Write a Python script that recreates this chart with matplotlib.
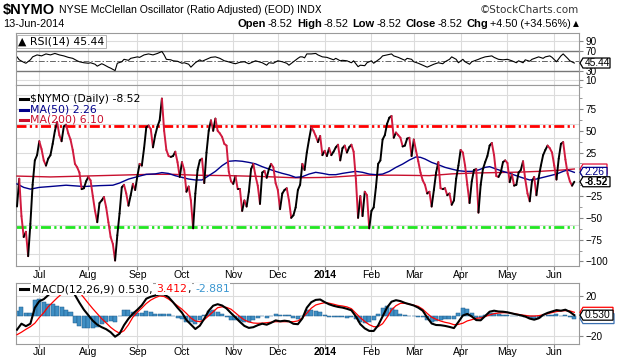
import numpy as np
import pandas as pd
import matplotlib
matplotlib.use("Agg")
import matplotlib.pyplot as plt
from matplotlib.collections import LineCollection
from matplotlib.lines import Line2D
from matplotlib.patches import Polygon

# NYSE trading days shown on the chart
holidays = ["2013-07-04", "2013-09-02", "2013-11-28", "2013-12-25", "2014-01-01",
            "2014-01-20", "2014-02-17", "2014-04-18", "2014-05-26"]
dates = pd.bdate_range("2013-06-17", "2014-06-13", freq="C", holidays=holidays)

# $NYMO daily close
nymo = [-37, -5, -48, -72, -66, -94, -57, -12, 16, 22,
        38, 29, 16, 10, 18, 22, 35, 50, 60, 45,
        38, 55, 57, 47, 40, 28, 12, 8, 2, -17,
        -16, -8, -3, -7, -25, -42, -55, -33, -30, -26,
        -38, -55, -72, -80, -99, -70, -45, -15, -12, -22,
        -36, -24, -11, -18, -2, 12, 10, 30, 54, 56,
        52, 31, 45, 55, 62, 87, 50, 28, 21, 20,
        21, 26, 14, -3, 14, 5, -20, -14, -30, -62,
        -22, 5, 16, 18, -10, 25, 50, 62, 50, 64,
        50, 47, 43, 35, 33, 3, -8, -11, -2, -17,
        -17, -42, -30, -37, -20, 6, 12, -2, -13, -34,
        2, 4, -4, 6, 12, 8, -10, -18, -40, -22,
        -18, -16, -30, -50, -47, -38, -18, -12, 12, 5,
        25, 40, 54, 50, 44, 37, 44, 22, 27, 21,
        30, 22, 26, 31, 34, 16, 30, 33, 25, 31,
        34, 26, -5, -50, -25, -48, -20, -24, -62, -42,
        -38, -15, 12, 16, 40, 45, 58, 65, 67, 42,
        48, 45, 42, 32, 33, 41, 42, 21, 40, 27,
        15, 2, -7, -12, -22, -20, -37, -18, 2, 14,
        -16, -17, -16, -24, -22, -35, -30, -5, 10, 28,
        25, 10, -12, -33, -8, 5, 6, -44, -12, 6,
        14, 21, 33, 36, 22, -2, -3, 2, 14, 16,
        13, -9, 0, -13, -12, 2, 5, 15, -6, -22,
        -31, -8, -3, -24, -4, 10, 22, 28, 33, 30,
        25, 10, -6, 18, 35, 37, 17, 1, -8, -13.02, -8.52]

# moving averages, read at trading-day offsets
ma50_day = [0, 3, 6, 10, 15, 22, 30, 37, 43, 46, 50, 55, 58, 62, 65, 68, 71, 74, 77,
            80, 83, 86, 89, 92, 95, 98, 101, 104, 107, 110, 113, 116, 119, 122, 125,
            128, 131, 134, 137, 140, 143, 146, 149, 152, 155, 158, 161, 164, 167, 170,
            173, 176, 179, 181, 183, 186, 189, 192, 195, 198, 201, 204, 207, 210, 212,
            215, 218, 221, 224, 227, 230, 233, 236, 239, 242, 245, 247, 250]
ma50_val = [-11, -15, -17, -15, -14, -12.5, -14, -13, -12.5, -10, -5.5, -2, 0, 0.5, 2,
            1, -1.6, -3.5, -5.4, -6.5, -6.5, -1.6, 3.4, 10, 15, 15.6, 15, 13.7, 12, 8.8,
            6, 3.4, 1.1, -0.8, -3.5, -2.7, 0.3, 2.3, 1.1, -0.4, -0.4, 1.1, 2.3, 3.4, 2.3,
            0.3, -0.4, 0.3, 3.4, 8, 11.8, 16.4, 20, 19.5, 17.6, 13.7, 11, 8, 6, 4.2, 3.4,
            3.4, 5, 8, 8.8, 6, 3.4, 1.1, -1.6, -4.2, -6.5, -5.4, -3.5, -1.6, 0.3, 3.4, 5,
            2.26]
ma200_day = [0, 15, 30, 45, 60, 70, 80, 95, 110, 125, 140, 155, 170, 185, 195, 205,
             215, 225, 235, 245, 250]
ma200_val = [-2, -3, -2, -1, 0, 0, -1, -1.5, -2.5, -4, -3.5, -1, -1, -1.5, 0.5, 1.5,
             2, 2.5, 3.5, 5, 6.1]

# RSI(14)
rsi_day = [0, 1, 3, 4, 6, 7, 9, 11, 13, 15, 17, 19, 21, 23, 25, 27, 28, 30, 32, 33,
           35, 36, 38, 39, 41, 42, 44, 45, 47, 48, 50, 51, 54, 55, 57, 59, 61, 63, 65,
           66, 67, 69, 70, 72, 74, 75, 77, 78, 80, 82, 83, 85, 87, 89, 91, 93, 94, 97,
           98, 100, 102, 104, 106, 107, 110, 112, 113, 115, 117, 119, 121, 122, 124,
           126, 127, 128, 129, 130, 132, 134, 135, 137, 139, 142, 143, 145, 146, 148,
           150, 151, 153, 154, 156, 157, 159, 160, 163, 164, 166, 168, 169, 171, 172,
           174, 175, 177, 178, 180, 182, 184, 186, 187, 189, 191, 192, 194, 195, 197,
           198, 200, 201, 203, 204, 207, 208, 210, 213, 214, 216, 218, 220, 222, 224,
           225, 227, 228, 230, 231, 234, 236, 237, 239, 240, 242, 244, 245, 247, 248,
           250]
rsi_val = [58, 52, 47, 45, 52, 58, 62, 60, 64, 62, 65, 62, 60, 57, 55, 50, 48, 46, 45,
           46, 43, 39, 44, 42, 37, 35, 30, 45, 48, 53, 51, 55, 58, 57, 62, 64, 62, 65,
           69, 62, 53, 52, 50, 49, 45, 46, 43, 37, 46, 52, 49, 53, 57, 58, 55, 50, 49,
           45, 44, 47, 48, 44, 48, 50, 46, 41, 46, 45, 50, 48, 45, 41, 48, 55, 58, 58,
           56, 64, 64, 65, 62, 58, 57, 52, 55, 50, 51, 50, 46, 50, 38, 41, 40, 46, 50,
           45, 55, 60, 62, 64, 60, 57, 55, 51, 55, 53, 48, 45, 41, 37, 41, 43, 46, 44,
           48, 53, 58, 53, 46, 53, 48, 43, 48, 53, 55, 58, 60, 57, 53, 52, 53, 50, 46,
           50, 46, 52, 49, 53, 58, 55, 58, 60, 57, 48, 60, 64, 55, 50, 45.44]

# MACD(12,26,9) and its signal line, every second trading day
macd = [-14, -8, -10.5, -8, 8, 14.5, 16.5, 20.5, 25, 28,
        30, 30.7, 30.5, 20.7, 13, 6, 0.5, -5, -9, -11.5,
        -13.5, -16.5, -21, -18, -9.5, -3, 2, 6, 10.5, 17,
        19, 20.2, 21.4, 21.2, 18.5, 13.5, 8, 3, -4.3, -8.8,
        -13.3, -10, -3, 5, 10, 11.5, 10.2, 7.2, 2.6, -1.7,
        -6.2, -10.2, -12.2, -11.5, -9.5, -8, -9, -7.1, -4.7, -5.6,
        -5, -5.6, -8.1, -8.5, -2.7, 8, 13.5, 15.8, 16.2, 13.6,
        11.4, 9.9, 8.8, 8.1, 6.9, 5.4, -0.7, -8.5, -12.7, -15.2,
        -15.3, -9.7, -0.7, 8.2, 14, 15.5, 14.6, 12.8, 11.5, 10.2,
        8, 5, -1.8, -7.8, -9.3, -9.5, -10.2, -11.2, -12.4, -6.3,
        0.2, 1.8, -0.8, -4.4, -4.6, -0.3, 4, 5, 4.2, 4,
        3.4, 2.3, 1.3, 0.4, -0.8, -2.9, -4, -2.6, 0.8, 2.8,
        4.2, 5.6, 5, 6, 3.8, 0.53]
signal = [-19, -16.5, -13.6, -11, -7.5, -1.8, 3, 9, 13.4, 17.8,
          21.7, 24.6, 27, 27.5, 23.5, 18, 12.4, 7, 2, -3,
          -7.2, -11.6, -15, -17.5, -15, -9, -1.4, 3.5, 7.7, 12.2,
          15.6, 18, 19.7, 19.2, 16.6, 13.3, 9.9, 6.5, 2.3, -2.3,
          -5.3, -6, -4, 0, 4, 8, 8.9, 8.3, 6.5, 2.8,
          -1, -4.3, -6.2, -7.3, -7.6, -7.4, -7, -6.5, -6, -6,
          -6, -6, -6, -5.2, -2.3, 2.5, 7.5, 10.7, 12, 13,
          12.5, 11.5, 10.3, 9.7, 8.8, 7, 2.5, -2, -5.8, -9,
          -11, -11, -8, -1.6, 5.8, 10, 12.4, 12.4, 11.6, 10.5,
          9.3, 6.5, 2.3, -1.5, -3.6, -5.3, -6.6, -7.5, -9, -8.7,
          -7.5, -5.2, -4, -2.6, -2.2, -0.9, 0.8, 2, 2.7, 3,
          3, 2.4, 1.6, 0.9, 0.3, -0.3, -0.3, 0, 0.9, 2,
          3.1, 4.1, 4.8, 5, 4.8, 3.412]
hist_last = -2.881

upper_line = 55
lower_line = -60

W, H = 620, 360
plt.rcParams["font.family"] = ["Liberation Sans", "DejaVu Sans"]
fig = plt.figure(figsize=(W / 100, H / 100), dpi=100)

x = np.arange(len(dates))
first = ~dates.to_period("M").duplicated()
month_pos = x[first][1:]
month_lbl = [str(d.year) if d.month == 1 else d.strftime("%b") for d in dates[first][1:]]
XMIN, XMAX = -0.45, 252.1

RED = "#d11a3f"
NAVY = "#00008b"
GRID = "#dcdcdc"


def panel(top, bottom):
    return fig.add_axes([16 / W, 1 - bottom / H, 563 / W, (bottom - top) / H])


def style(a):
    a.set_xlim(XMIN, XMAX)
    a.set_xticks(month_pos)
    a.tick_params(axis="x", length=0, labelbottom=False)
    for p in month_pos:
        a.axvline(p, color=GRID, lw=0.8, zorder=0)
    a.yaxis.tick_right()
    a.tick_params(axis="y", which="both", direction="out", color="#888",
                  labelsize=7.2, pad=1.5, length=3)
    a.tick_params(axis="y", which="minor", length=1.8)
    for s in a.spines.values():
        s.set_color("#9a9a9a")
        s.set_linewidth(0.8)


tags = []  # drawn after the layout is fixed


def tag(a, val, txt, ec, tc, bold=False, w=27):
    tags.append((a, val, txt, ec, tc, bold, w))


# ---- RSI panel
ax_rsi = panel(33, 85)
style(ax_rsi)
ax_rsi.set_ylim(0.6, 106.7)
ax_rsi.set_yticks([10, 30, 70, 90])
for g in (10, 90):
    ax_rsi.axhline(g, color=GRID, lw=0.8, zorder=0)
ax_rsi.axhline(70, color="#777", lw=1)
ax_rsi.axhline(30, color="#777", lw=1)
ax_rsi.axhline(50, color="#666", lw=0.7, dashes=(6, 2, 1.5, 2))
ax_rsi.plot(rsi_day, rsi_val, color="black", lw=0.8)
tag(ax_rsi, rsi_val[-1], f"{rsi_val[-1]:.2f}", "black", "black")
ax_rsi.text(0.004, 0.93, "\u25b2 RSI(14) %.2f" % rsi_val[-1], transform=ax_rsi.transAxes,
            ha="left", va="top", fontsize=7.8, family="DejaVu Sans",
            bbox=dict(boxstyle="square,pad=0.15", fc="white", ec="#aaa", lw=0.6))

# ---- main panel
ax = panel(85, 266)
style(ax)
ax.set_ylim(-105.3, 102.6)
ax.set_yticks([-100, -75, -50, -25, 25, 50, 75])
ax.set_yticks(np.arange(-100, 101, 12.5), minor=True)
ax.yaxis.set_ticklabels([], minor=True)
for g in np.arange(-91.67, 100, 16.667):
    ax.axhline(g, color=GRID, lw=0.8, zorder=0)
ax.tick_params(axis="x", length=3, direction="out", color="#888")

ax.plot([XMIN, x[-1]], [upper_line, upper_line], color="#ff0000", lw=2,
        dashes=(3.6, 1.2, 0.8, 1.2, 0.8, 1.2), zorder=2)
ax.plot([XMIN, x[-1]], [lower_line, lower_line], color="#22e622", lw=2,
        dashes=(3.6, 1.2, 0.8, 1.2, 0.8, 1.2), zorder=2)
ax.plot(ma200_day, ma200_val, color="#c8102e", lw=1, zorder=3)
ax.plot(ma50_day, ma50_val, color=NAVY, lw=1, zorder=3)

v = np.array(nymo)
segs = np.stack([np.column_stack([x[:-1], v[:-1]]), np.column_stack([x[1:], v[1:]])], axis=1)
cols = np.where(np.diff(v) >= 0, "black", RED)
ax.add_collection(LineCollection(segs, colors=cols, linewidths=1.4, capstyle="round",
                                 zorder=4))

tag(ax, ma200_val[-1], None, "#e0103a", "#e0103a", w=24)
tag(ax, ma50_val[-1], f"{ma50_val[-1]:.2f}", NAVY, NAVY, w=24)
tag(ax, nymo[-1], f"{nymo[-1]:.2f}", "black", "black", bold=True)

legend = [("$NYMO (Daily) %.2f" % nymo[-1], "black", 99),
          ("MA(50) %.2f" % ma50_val[-1], NAVY, 109.5),
          ("MA(200) %.2f" % ma200_val[-1], "#c8102e", 120)]
for txt, c, py in legend:
    fig.add_artist(Line2D([20 / W, 28 / W], [1 - py / H, 1 - py / H], color=c, lw=2.2))
    fig.text(30 / W, 1 - py / H, txt, color=c, fontsize=7.8, family="DejaVu Sans",
             va="center", ha="left")

# ---- MACD panel
ax_m = panel(283, 344)
style(ax_m)
ax_m.set_ylim(-28.3, 32.7)
ax_m.set_yticks([-20, 20])
for g in (-20, 20):
    ax_m.axhline(g, color=GRID, lw=0.8, zorder=0)
ax_m.tick_params(axis="x", length=3, direction="out", color="#888")
x2 = x[::2]
hist = np.array(macd) - np.array(signal)
ax_m.bar(x2, hist, width=1.8, color="#3f8fc4", edgecolor="#1f5d8e", lw=0.35, zorder=2)
ax_m.plot(x2, signal, color="#ff0000", lw=0.9, zorder=3)
ax_m.plot(x2, macd, color="black", lw=1.5, zorder=4)
tag(ax_m, signal[-1], None, "#ff0000", "#ff0000", w=30)
tag(ax_m, hist_last, None, "#3a6fb0", "#3a96d0", w=31)
tag(ax_m, macd[-1], f"{macd[-1]:.3f}", "black", "black", w=30)

for pos, lbl in zip(month_pos, month_lbl):
    wt = "bold" if lbl.isdigit() else "normal"
    for yy in (1.13, -0.13):
        ax_m.text(pos, yy, lbl, transform=ax_m.get_xaxis_transform(), ha="center",
                  va="center", fontsize=7.5, fontweight=wt)

renderer = fig.canvas.get_renderer()


def chain(px, py, pieces, right=False, bg=None):
    texts = []
    for s, kw, gap in pieces:
        t = fig.text(0, 1 - py / H, s, va="center", ha="left", **kw)
        if bg:
            t.set_bbox(dict(boxstyle="square,pad=0.05", fc=bg, ec="none"))
        texts.append((t, t.get_window_extent(renderer).width + gap))
    total = sum(wd for _, wd in texts)
    pos = px - total if right else px
    for t, wd in texts:
        t.set_x(pos / W)
        pos += wd


lab = dict(fontsize=7.8, family="DejaVu Sans")
chain(32, 289, [("MACD(12,26,9) %.3f," % macd[-1], lab, 4),
                ("%.3f" % signal[-1], dict(lab, color="#ff0000"), 0),
                (",", lab, 4),
                ("%.3f" % hist_last, dict(lab, color="#3a96d0"), 0)], bg="white")
fig.add_artist(Line2D([20 / W, 28 / W], [1 - 289 / H, 1 - 289 / H], color="black", lw=2.2))

# value tags on the right edge, pointed on the left side
for a, val, txt, ec, tc, bold, wd in tags:
    x0 = a.transAxes.transform((1, 0))[0] + 1
    yc = a.transData.transform((0, val))[1]
    hh = 5
    pts = [(x0, yc), (x0 + 3, yc + hh), (x0 + 3 + wd, yc + hh), (x0 + 3 + wd, yc - hh),
           (x0 + 3, yc - hh)]
    fig.add_artist(Polygon([(px / W, py / H) for px, py in pts], closed=True, fc="white",
                           ec=ec, lw=0.9, transform=fig.transFigure, zorder=6))
    if txt:
        fig.text((x0 + 4.5) / W, yc / H, txt, ha="left", va="center", fontsize=7.4,
                 color=tc, fontweight="bold" if bold else "normal", zorder=7)

# ---- header
chain(3, 10, [("$NYMO", dict(fontsize=10.5, fontweight="bold"), 4),
              ("NYSE McClellan Oscillator (Ratio Adjusted) (EOD)", dict(fontsize=7.6), 3),
              ("INDX", dict(fontsize=7, family="DejaVu Sans"), 0)])
fig.text(579 / W, 1 - 10 / H, "\u00a9StockCharts.com", ha="right", va="center",
         fontsize=7.5, color="#333", family="DejaVu Sans")
fig.text(3 / W, 1 - 24 / H, dates[-1].strftime("%d-%b-%Y"), ha="left", va="center", fontsize=7.8)
b = dict(fontsize=8, fontweight="bold")
n = dict(fontsize=7.8)
chg = nymo[-1] - nymo[-2]
pct = chg / abs(nymo[-2]) * 100
val = "%.2f" % nymo[-1]
chain(579, 24, [("Open", b, 2), (val, n, 4), ("High", b, 2), (val, n, 4),
                ("Low", b, 2), (val, n, 4), ("Close", b, 2), (val, n, 4),
                ("Chg", b, 2), ("%+.2f (%+.2f%%)" % (chg, pct), n, 2),
                ("\u25b2", dict(fontsize=5.5, family="DejaVu Sans"), 0)], right=True)

fig.savefig("out.png", dpi=100)
